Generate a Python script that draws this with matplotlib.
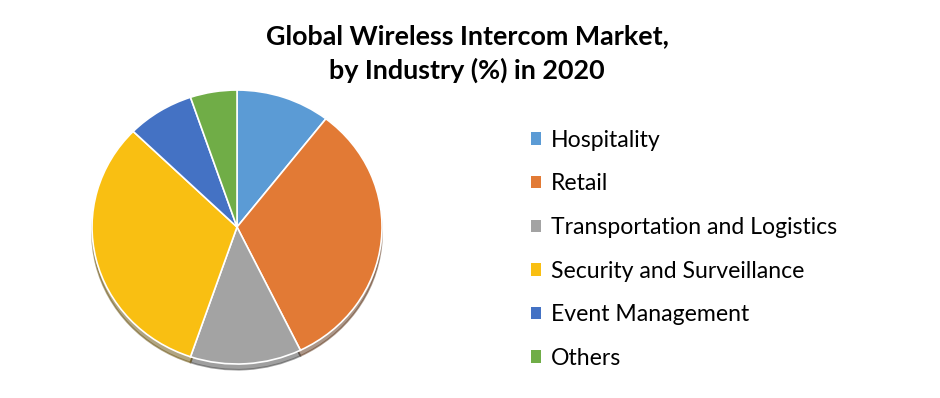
import matplotlib.pyplot as plt
from matplotlib.patches import Patch

plt.rcParams['font.family'] = ['Lato', 'DejaVu Sans']

industries = ["Hospitality", "Retail", "Transportation and Logistics",
              "Security and Surveillance", "Event Management", "Others"]
shares = [10.5, 32.3, 12.4, 32.1, 7.5, 5.2]
colors = ["#5B9BD5", "#E27A35", "#A3A3A3", "#F9BF12", "#4472C4", "#70AD47"]

fig = plt.figure(figsize=(9.4, 3.98), dpi=100)

# pie is slightly squashed vertically in the original, so aspect is left auto
ax = fig.add_axes([0.0979, 0.0854, 0.3085, 0.6884])
wedges, _ = ax.pie(shares, colors=colors, startangle=90, counterclock=False,
                   wedgeprops=dict(edgecolor="white", linewidth=1.2),
                   shadow={'ox': 0.0, 'oy': -0.03, 'shade': 0.6})
ax.set_xlim(-1, 1)
ax.set_ylim(-1, 1)
ax.set_aspect('auto')

fig.text(0.497, 0.866, "Global Wireless Intercom Market,\nby Industry (%) in 2020",
         ha="center", va="center", fontsize=19.4, fontweight="bold",
         linespacing=1.47)

handles = [Patch(facecolor=c, edgecolor="none") for c in colors]
fig.legend(handles, industries, loc="upper left", bbox_to_anchor=(0.555, 0.697),
           frameon=False, fontsize=16.6, handlelength=0.45, handleheight=0.45,
           handletextpad=0.4, labelspacing=0.98, borderaxespad=0)

fig.savefig("out.png", dpi=100)
